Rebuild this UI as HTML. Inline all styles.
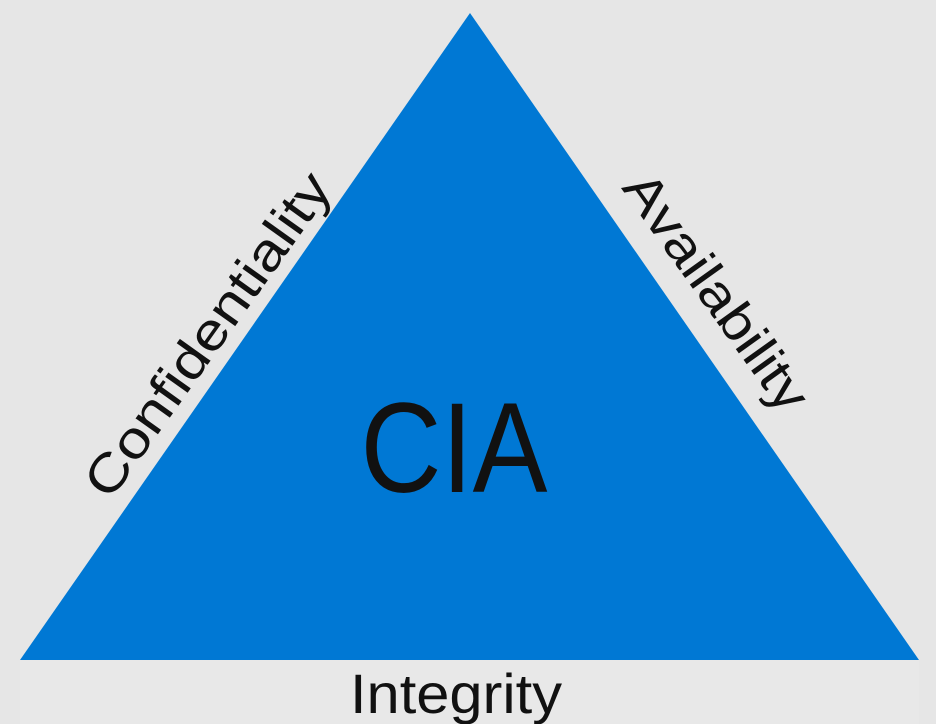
<!DOCTYPE html>
<html><head><meta charset="utf-8"><style>
html,body{margin:0;padding:0;background:#e6e6e6;}
svg{display:block;}
text{font-family:"Liberation Sans",sans-serif;fill:#111;}
</style></head><body>
<svg width="936" height="724" viewBox="0 0 936 724" xmlns="http://www.w3.org/2000/svg">
<rect width="936" height="724" fill="#e6e6e6"/>
<rect x="20" y="660" width="899" height="64" fill="#e8e8e8"/>
<polygon points="470,13 20,660 919,660" fill="#0078d4"/>
<text x="454" y="492" font-size="128" textLength="187" lengthAdjust="spacingAndGlyphs" text-anchor="middle">CIA</text>
<text x="456" y="713" font-size="56" textLength="212" lengthAdjust="spacingAndGlyphs" text-anchor="middle">Integrity</text>
<text transform="translate(208,335) rotate(-54.5)" font-size="52" textLength="385" lengthAdjust="spacingAndGlyphs" text-anchor="middle" dominant-baseline="central">Confidentiality</text>
<text transform="translate(716,292) rotate(54.5)" font-size="52" textLength="280" lengthAdjust="spacingAndGlyphs" text-anchor="middle" dominant-baseline="central">Availability</text>
</svg>
</body></html>
